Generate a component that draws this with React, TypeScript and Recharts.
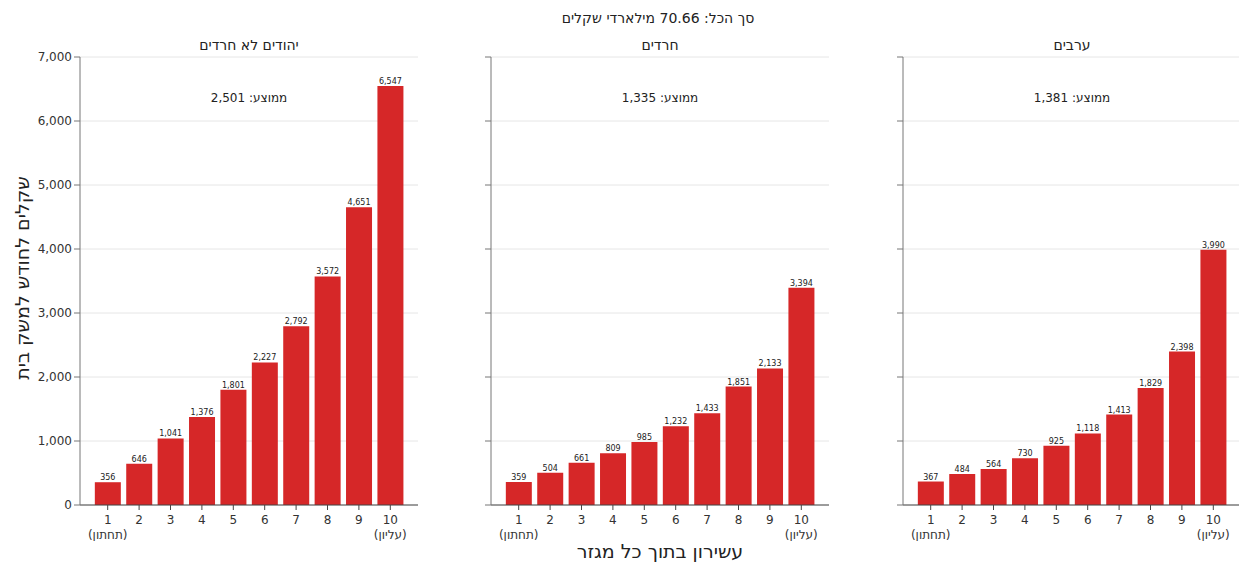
import React from "react"
import { BarChart, Bar, XAxis, YAxis, CartesianGrid, LabelList } from "recharts"

const deciles = ["1", "2", "3", "4", "5", "6", "7", "8", "9", "10"]
const nonHarediJews = [356, 646, 1041, 1376, 1801, 2227, 2792, 3572, 4651, 6547]
const haredim = [359, 504, 661, 809, 985, 1232, 1433, 1851, 2133, 3394]
const arabs = [367, 484, 564, 730, 925, 1118, 1413, 1829, 2398, 3990]
const panelTitles = ["יהודים לא חרדים", "חרדים", "ערבים"]
const panelAverages = ["2,501", "1,335", "1,381"]
const yTicks = [0, 1000, 2000, 3000, 4000, 5000, 6000, 7000]
const decileNotes: Record<string, string> = { "1": "(תחתון)", "10": "(עליון)" }

const FONT = "'DejaVu Sans', sans-serif"
const RED = "#d62728"
const fmt = (v: number) => Number(v).toLocaleString("en-US")

const DecileTick = (props: any) => {
  const { x, y, payload } = props
  const note = decileNotes[payload.value]
  return (
    <g transform={`translate(${x},${y})`}>
      <text x={0} y={12} textAnchor="middle" fontSize={12} fill="#333" fontFamily={FONT}>{payload.value}</text>
      {note && (
        <text x={0} y={27} textAnchor="middle" fontSize={12} fill="#333" fontFamily={FONT}>{note}</text>
      )}
    </g>
  )
}

function Panel({ values, left, showY }: { values: number[]; left: number; showY: boolean }) {
  const data = deciles.map((d, i) => ({ decile: d, value: values[i] }))
  return (
    <div style={{ position: "absolute", left, top: 0 }}>
      <BarChart width={418} height={545} data={data} margin={{ top: 57, right: 0, left: 20, bottom: 0 }} barCategoryGap="9%">
        <CartesianGrid vertical={false} stroke="#e6e6e6" />
        <XAxis dataKey="decile" height={40} padding={{ left: 12, right: 12 }} tick={<DecileTick />}
          axisLine={{ stroke: "#444" }} tickLine={{ stroke: "#444" }} tickSize={5} interval={0} />
        <YAxis width={60} domain={[0, 7000]} ticks={yTicks}
          tickFormatter={(v: number) => (showY ? fmt(v) : "")}
          tick={{ fontSize: 12, fill: "#333", fontFamily: FONT }}
          axisLine={{ stroke: "#777" }} tickLine={{ stroke: "#777" }} tickSize={6} />
        <Bar dataKey="value" fill={RED} isAnimationActive={false}>
          <LabelList dataKey="value" position="top" offset={2} formatter={(v: any) => fmt(v)}
            style={{ fontSize: 8, fill: "#222", fontFamily: FONT }} />
        </Bar>
      </BarChart>
    </div>
  )
}

const centered = (x: number, y: number, size: number): React.CSSProperties => ({
  position: "absolute", left: x, top: y, transform: "translate(-50%, -50%)", fontSize: size,
  fontFamily: FONT, color: "#222", whiteSpace: "nowrap", direction: "rtl",
})

export default function App() {
  const panels = [nonHarediJews, haredim, arabs]
  const lefts = [0, 411, 823]
  return (
    <div style={{ position: "absolute", left: 0, top: 0, width: 1239, height: 565, overflow: "hidden", background: "#fff" }}>
      {panels.map((vals, i) => (
        <Panel key={i} values={vals} left={lefts[i]} showY={i === 0} />
      ))}
      <div style={centered(658, 18, 14)}>סך הכל: 70.66 מילארדי שקלים</div>
      {panelTitles.map((t, i) => (
        <div key={t} style={centered(lefts[i] + 249, 45, 14)}>{t}</div>
      ))}
      {panelAverages.map((a, i) => (
        <div key={i} style={centered(lefts[i] + 249, 98, 12)}>ממוצע: {a}</div>
      ))}
      <div style={{ ...centered(22, 278, 19), transform: "translate(-50%, -50%) rotate(-90deg)" }}>שקלים לחודש למשק בית</div>
      <div style={centered(660, 551, 19)}>עשירון בתוך כל מגזר</div>
    </div>
  )
}
